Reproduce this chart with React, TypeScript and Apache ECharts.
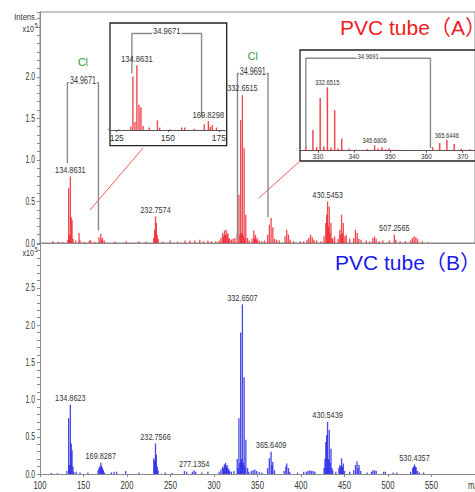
import React, { useEffect, useRef } from "react";
import * as echarts from "echarts";

const FONT = "'Liberation Sans', Arial, sans-serif";
const TITLE_FONT = "'Liberation Sans', Arial, 'Noto Sans CJK SC', sans-serif";

// Spectrum A (PVC tube A), m/z vs intensity (x10^5)
const specA: [number, number][] = [
  [115, 0.02], [121, 0.015], [126, 0.01], [131.9, 0.04], [132.9, 0.66], [133.9, 0.1], [134.86, 0.8], [135.9, 0.31],
  [136.85, 0.28], [137.9, 0.05], [140.9, 0.03], [144.9, 0.12], [146, 0.03], [151, 0.01], [156.8, 0.03], [158.3, 0.03],
  [163, 0.015], [167.8, 0.07], [169.83, 0.11], [170.8, 0.04], [171.8, 0.06], [173.8, 0.03], [186, 0.015], [199, 0.02],
  [213.6, 0.02], [222, 0.015], [230.7, 0.06], [231.76, 0.16], [232.76, 0.32], [233.76, 0.24], [234.76, 0.1], [235.76, 0.05],
  [241, 0.015], [249.6, 0.03], [258, 0.015], [266.7, 0.03], [272.4, 0.03], [278, 0.03], [283.7, 0.04], [288, 0.02],
  [293, 0.03], [297, 0.02], [302, 0.02], [306, 0.03], [308, 0.06], [310, 0.12], [311, 0.08], [312, 0.15], [313, 0.1],
  [314, 0.16], [315, 0.1], [316, 0.12], [317, 0.06], [318, 0.05], [320, 0.04], [322, 0.05], [324, 0.06], [326.7, 0.11],
  [328.65, 0.58], [329.7, 0.1], [330.65, 1.48], [331.65, 0.12], [332.65, 1.78], [333.65, 0.09], [334.65, 1.14], [335.6, 0.06],
  [336.6, 0.34], [338.6, 0.06], [340.5, 0.03], [343.7, 0.05], [345.68, 0.15], [346.7, 0.06], [347.7, 0.1], [348.7, 0.04],
  [349.7, 0.06], [352, 0.03], [355, 0.02], [358, 0.03], [361.7, 0.1], [363.65, 0.22], [365.64, 0.3], [367.65, 0.19],
  [369.6, 0.05], [372, 0.04], [375, 0.03], [381.6, 0.08], [383.6, 0.16], [385.6, 0.1], [387.6, 0.04], [391.7, 0.02],
  [399, 0.02], [403, 0.02], [407, 0.04], [409, 0.06], [411, 0.1], [413, 0.07], [415, 0.04], [418, 0.03], [423, 0.02],
  [426.5, 0.08], [428.5, 0.24], [429.5, 0.34], [430.55, 0.5], [431.5, 0.2], [432.5, 0.44], [433.5, 0.12], [434.5, 0.24],
  [435.5, 0.06], [436.5, 0.05], [438.6, 0.08], [442.6, 0.05], [444.6, 0.16], [445.6, 0.1], [446.6, 0.34], [447.6, 0.12],
  [448.6, 0.24], [450.5, 0.08], [452, 0.1], [456, 0.05], [460.6, 0.06], [462.6, 0.16], [464.6, 0.12], [466.5, 0.05],
  [469, 0.04], [475, 0.03], [479, 0.02], [482.6, 0.06], [484.5, 0.08], [486.4, 0.05], [490, 0.02], [494, 0.03],
  [501.5, 0.03], [507.26, 0.1], [509, 0.04], [514, 0.02], [520, 0.02], [526, 0.03], [528, 0.06], [530, 0.08],
  [532, 0.07], [534, 0.05], [539.4, 0.02], [546, 0.01],
];

// Spectrum B (PVC tube B)
const specB: [number, number][] = [
  [113, 0.015], [120, 0.01], [130.9, 0.04], [132.9, 0.75], [133.9, 0.12], [134.86, 0.93], [135.9, 0.41], [136.85, 0.32],
  [137.9, 0.1], [138.9, 0.03], [141.7, 0.03], [146, 0.02], [155, 0.02], [166.8, 0.05], [167.8, 0.08], [168.8, 0.1],
  [169.83, 0.15], [170.8, 0.11], [171.8, 0.08], [172.8, 0.05], [174, 0.02], [182, 0.02], [185, 0.03], [188, 0.03],
  [198.5, 0.04], [213.6, 0.02], [230.76, 0.21], [231.76, 0.18], [232.76, 0.41], [233.76, 0.26], [234.76, 0.1],
  [235.76, 0.05], [244, 0.02], [252, 0.015], [266, 0.04], [268.6, 0.03], [275.1, 0.03], [277.14, 0.05], [279, 0.03],
  [286, 0.02], [293, 0.03], [306, 0.03], [308, 0.06], [310, 0.1], [311, 0.08], [312, 0.13], [313.3, 0.15], [314.3, 0.1],
  [315, 0.12], [316, 0.08], [317, 0.06], [318, 0.04], [320, 0.03], [323, 0.04], [326.7, 0.2], [327.7, 0.08],
  [328.65, 0.75], [329.7, 0.15], [330.65, 1.9], [331.65, 0.2], [332.65, 2.28], [333.65, 0.15], [334.65, 1.3],
  [335.6, 0.1], [336.6, 0.46], [338.6, 0.08], [340, 0.03], [343, 0.04], [345, 0.05], [347, 0.06], [349, 0.04],
  [352, 0.03], [355, 0.02], [361.6, 0.08], [363.6, 0.21], [365.64, 0.3], [366.6, 0.12], [367.6, 0.16], [369.6, 0.05],
  [380.6, 0.04], [382.6, 0.1], [383.6, 0.14], [385.6, 0.08], [387, 0.03], [396, 0.02], [403, 0.03], [406, 0.03],
  [408, 0.04], [410, 0.05], [412, 0.04], [414, 0.04], [416, 0.03], [426.5, 0.08], [427.5, 0.2], [428.5, 0.43],
  [429.5, 0.52], [430.54, 0.7], [431.5, 0.2], [432.5, 0.59], [433.5, 0.15], [434.5, 0.34], [435.5, 0.08], [436.5, 0.05],
  [440, 0.03], [443.6, 0.08], [444.6, 0.12], [445.6, 0.1], [446.6, 0.21], [447.6, 0.1], [448.6, 0.14], [450, 0.04],
  [456, 0.03], [460.6, 0.05], [462.6, 0.12], [464.4, 0.17], [465.6, 0.08], [466.7, 0.12], [468.6, 0.04], [476, 0.02],
  [481, 0.03], [482.6, 0.05], [484.5, 0.05], [486.4, 0.04], [495, 0.03], [497, 0.03], [506, 0.02], [510, 0.02],
  [526, 0.03], [528.4, 0.08], [529.4, 0.1], [530.44, 0.13], [531.4, 0.1], [532.4, 0.09], [534, 0.04], [536, 0.02],
  [541, 0.02],
];

// Peak annotations: [m/z, intensity, text]
const peakLabelsA: [number, number, string][] = [
  [134.86, 0.8, "134.8631"], [232.76, 0.32, "232.7574"], [332.65, 1.78, "332.6515"],
  [430.55, 0.5, "430.5453"], [507.26, 0.1, "507.2565"],
];
const peakLabelsB: [number, number, string][] = [
  [134.86, 0.93, "134.8623"], [169.83, 0.15, "169.8287"], [232.76, 0.41, "232.7566"], [277.14, 0.05, "277.1354"],
  [332.65, 2.28, "332.6507"], [365.64, 0.3, "365.6409"], [430.54, 0.7, "430.5439"], [530.44, 0.13, "530.4357"],
];
const insetLabels1: [number, number, string][] = [[134.86, 0.8, "134.8631"], [169.83, 0.11, "169.8298"]];
const insetLabels2: [number, number, string][] = [
  [332.65, 1.78, "332.6515"], [345.68, 0.15, "345.6806"], [365.64, 0.3, "365.6446"],
];

// Chlorine isotope brackets: [x1, bottom1, x2, bottom2, top, text]
type Bracket = [number, number, number, number, number, string];
const bracketA1: Bracket = [131.5, 0.96, 167.2, 0.15, 1.93, "34.9671"];
const bracketA2: Bracket = [327, 0.04, 362.1, 0.31, 2.04, "34.9691"];
const bracketI1: Bracket = [132.4, 0.7, 166.5, 0.16, 1.19, "34.9671"];
const bracketI2: Bracket = [326.7, 0.07, 361.1, 0.07, 2.6, "34.9691"];

// Tick labels
const xTickValues = [100, 150, 200, 250, 300, 350, 400, 450, 500, 550];
const yTickValuesA = [0, 0.5, 1.0, 1.5, 2.0];
const yTickValuesB = [0, 0.5, 1.0, 1.5, 2.0, 2.5];
const inset1Ticks = [125, 150, 175];
const inset2Ticks = [330, 340, 350, 360, 370];

const RED = "rgba(238,30,40,0.82)";
const BLUE = "rgba(30,30,230,0.82)";
const GRAY = "#8a8a8a";

type TextOpts = {
  dx?: number; dy?: number; size: number; scaleX?: number; color?: string;
  align?: string; vAlign?: string; bg?: string; family?: string;
};

function textSeries(data: [number, number, string][], axis: number, o: TextOpts): any {
  return {
    type: "custom", xAxisIndex: axis, yAxisIndex: axis, silent: true, z: 6, clip: false,
    data: data.map((d) => [d[0], d[1]]),
    renderItem: (params: any, api: any) => {
      const p = api.coord([api.value(0), api.value(1)]);
      return {
        type: "text",
        x: p[0] + (o.dx || 0),
        y: p[1] + (o.dy || 0),
        scaleX: o.scaleX || 1,
        style: {
          text: data[params.dataIndex][2],
          fontFamily: o.family || FONT,
          fontSize: o.size,
          fill: o.color || "#333",
          align: o.align || "center",
          verticalAlign: o.vAlign || "bottom",
          backgroundColor: o.bg,
          padding: o.bg ? [0, 1, 0, 1] : 0,
        },
      };
    },
  };
}

function bracketSeries(b: Bracket, axis: number, size: number, scaleX: number, clDy: number | null) {
  const [x1, b1, x2, b2, top, text] = b;
  const out: any[] = [
    {
      type: "line", xAxisIndex: axis, yAxisIndex: axis, symbol: "none", silent: true, z: 4,
      lineStyle: { color: GRAY, width: 1.4 },
      data: [[x1, b1], [x1, top], [x2, top], [x2, b2]],
    },
    textSeries([[(x1 + x2) / 2, top, text]], axis, { size, scaleX, bg: "#fff", vAlign: "middle", dy: -2 }),
  ];
  if (clDy !== null) {
    out.push(textSeries([[(x1 + x2) / 2, top, "Cl"]], axis, { size: 10.5, color: "#1e9a32", vAlign: "middle", dy: clDy }));
  }
  return out;
}

export default function App() {
  const ref = useRef<HTMLDivElement>(null);
  useEffect(() => {
    if (!ref.current) return;
    const chart = echarts.init(ref.current, undefined, { renderer: "svg" });
    const mainY = (max: number, idx: number) => ({
      type: "value", gridIndex: idx, min: 0, max, interval: 0.1,
      axisLine: { show: true, lineStyle: { color: GRAY, width: 1 } },
      axisTick: { show: true, length: 3, lineStyle: { color: GRAY } },
      axisLabel: { show: false },
      splitLine: { show: false },
    });
    const option: any = {
      animation: false,
      grid: [
        { left: 40, top: 12, right: -5, height: 231, show: true, borderColor: GRAY, borderWidth: 1 },
        { left: 40, top: 244, right: -5, height: 230 },
        { left: 110, top: 23, width: 116.7, height: 107 },
        { left: 300, top: 50, width: 180, height: 100.7 },
      ],
      xAxis: [
        {
          type: "value", gridIndex: 0, min: 100, max: 600,
          axisLine: { lineStyle: { color: GRAY } }, axisTick: { show: false }, axisLabel: { show: false }, splitLine: { show: false },
        },
        {
          type: "value", gridIndex: 1, min: 100, max: 600, interval: 50,
          axisLine: { lineStyle: { color: GRAY } },
          axisTick: { show: true, length: 3, lineStyle: { color: GRAY } },
          axisLabel: { show: false },
          splitLine: { show: false },
        },
        {
          type: "value", gridIndex: 2, min: 121.7, max: 178.8,
          axisLine: { lineStyle: { color: "#555" } },
          axisTick: { show: true, length: 2, customValues: inset1Ticks, lineStyle: { color: "#555" } },
          axisLabel: { customValues: inset1Ticks, fontFamily: FONT, fontSize: 8.5, color: "#333", margin: 3 },
          splitLine: { show: false },
        },
        {
          type: "value", gridIndex: 3, min: 325.08, max: 373.4,
          axisLine: { lineStyle: { color: "#555" } },
          axisTick: { show: true, length: 2, customValues: inset2Ticks, lineStyle: { color: "#555" } },
          axisLabel: { customValues: inset2Ticks, fontFamily: FONT, fontSize: 6.5, color: "#333", margin: 2 },
          splitLine: { show: false },
        },
      ],
      yAxis: [
        mainY(2.78, 0),
        mainY(3.09, 1),
        { type: "value", gridIndex: 2, min: 0, max: 1.32, show: false },
        { type: "value", gridIndex: 3, min: 0, max: 2.83, show: false },
      ],
      series: [
        { type: "bar", xAxisIndex: 0, yAxisIndex: 0, barWidth: 1.3, itemStyle: { color: RED }, data: specA, silent: true },
        { type: "bar", xAxisIndex: 1, yAxisIndex: 1, barWidth: 1.3, itemStyle: { color: BLUE }, data: specB, silent: true },
        { type: "bar", xAxisIndex: 2, yAxisIndex: 2, barWidth: 1.4, itemStyle: { color: RED }, data: specA, silent: true },
        { type: "bar", xAxisIndex: 3, yAxisIndex: 3, barWidth: 1.5, itemStyle: { color: RED }, data: specA, silent: true },
        ...bracketSeries(bracketA1, 0, 10, 0.72, -21),
        ...bracketSeries(bracketA2, 0, 10, 0.72, -17),
        ...bracketSeries(bracketI1, 2, 8.5, 0.9, null),
        ...bracketSeries(bracketI2, 3, 6.5, 0.9, null),
        textSeries(peakLabelsA, 0, { size: 9.5, scaleX: 0.77, dy: -2 }),
        textSeries(peakLabelsB, 1, { size: 9.5, scaleX: 0.77, dy: -2 }),
        textSeries(insetLabels1, 2, { size: 8.5, scaleX: 0.9, dy: -1 }),
        textSeries(insetLabels2, 3, { size: 6.5, scaleX: 0.9, dy: -1 }),
        // axis tick labels
        textSeries(yTickValuesA.map((v) => [100, v, v.toFixed(1)] as [number, number, string]), 0,
          { size: 10.5, scaleX: 0.65, align: "right", vAlign: "middle", dx: -5 }),
        textSeries(yTickValuesB.map((v) => [100, v, v.toFixed(1)] as [number, number, string]), 1,
          { size: 10.5, scaleX: 0.65, align: "right", vAlign: "middle", dx: -5 }),
        textSeries(xTickValues.map((v) => [v, 0, String(v)] as [number, number, string]), 1,
          { size: 11, scaleX: 0.7, align: "center", vAlign: "top", dy: 5 }),
      ],
      graphic: [
        { type: "rect", shape: { x: 110, y: 23, width: 116.7, height: 122.7 }, style: { fill: "none", stroke: "#222", lineWidth: 1.3 }, silent: true },
        { type: "rect", shape: { x: 300, y: 50, width: 185, height: 111 }, style: { fill: "none", stroke: "#222", lineWidth: 1.3 }, silent: true },
        { type: "line", shape: { x1: 143, y1: 148, x2: 90, y2: 210 }, style: { stroke: "#f05a5a", lineWidth: 1 }, silent: true },
        { type: "line", shape: { x1: 300, y1: 161, x2: 259, y2: 198 }, style: { stroke: "#f05a5a", lineWidth: 1 }, silent: true },
        { type: "text", x: 37, y: 17, scaleX: 0.8, style: { text: "Intens.", fontFamily: FONT, fontSize: 9.5, fill: "#333", textAlign: "right", textVerticalAlign: "middle" }, silent: true },
        { type: "text", x: 34, y: 29, scaleX: 0.75, style: { text: "x10", fontFamily: FONT, fontSize: 9.5, fill: "#333", textAlign: "right", textVerticalAlign: "middle" }, silent: true },
        { type: "text", x: 34.5, y: 25.5, scaleX: 0.8, style: { text: "5", fontFamily: FONT, fontSize: 7, fill: "#333", textAlign: "left", textVerticalAlign: "middle" }, silent: true },
        { type: "text", x: 34, y: 253, scaleX: 0.75, style: { text: "x10", fontFamily: FONT, fontSize: 9.5, fill: "#333", textAlign: "right", textVerticalAlign: "middle" }, silent: true },
        { type: "text", x: 34.5, y: 249.5, scaleX: 0.8, style: { text: "5", fontFamily: FONT, fontSize: 7, fill: "#333", textAlign: "left", textVerticalAlign: "middle" }, silent: true },
        { type: "text", x: 340, y: 27, style: { text: "PVC tube（A）", fontFamily: TITLE_FONT, fontSize: 21, fill: "#ee1c24", textAlign: "left", textVerticalAlign: "middle" }, silent: true },
        { type: "text", x: 335, y: 262, style: { text: "PVC tube（B）", fontFamily: TITLE_FONT, fontSize: 21, fill: "#1a1ae6", textAlign: "left", textVerticalAlign: "middle" }, silent: true },
        { type: "text", x: 468, y: 485, scaleX: 0.7, style: { text: "m/z", fontFamily: FONT, fontSize: 11, fill: "#333", textAlign: "left", textVerticalAlign: "middle" }, silent: true },
      ],
    };
    chart.setOption(option);
    return () => chart.dispose();
  }, []);
  return <div ref={ref} style={{ position: "absolute", left: 0, top: 0, width: 475, height: 492, background: "#fff" }} />;
}
